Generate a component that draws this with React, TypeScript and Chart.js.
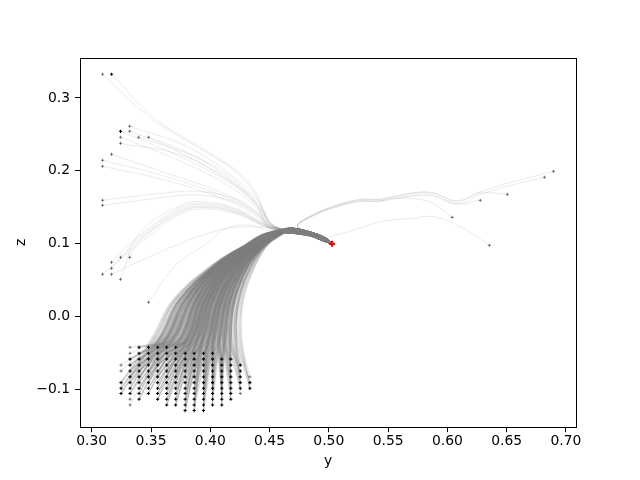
import React, { useEffect, useRef } from 'react';
import { Chart, registerables } from 'chart.js';

Chart.register(...registerables);

// ---- axis ranges and ticks ----
const X_MIN = 0.2901;
const X_MAX = 0.7085;
const Y_MIN = -0.1525;
const Y_MAX = 0.3555;
const xTickValues = [0.3, 0.35, 0.4, 0.45, 0.5, 0.55, 0.6, 0.65, 0.7];
const xTickLabels = ['0.30', '0.35', '0.40', '0.45', '0.50', '0.55', '0.60', '0.65', '0.70'];
const yTickValues = [-0.1, 0, 0.1, 0.2, 0.3];
const yTickLabels = ['\u22120.1', '0.0', '0.1', '0.2', '0.3'];

// ---- start grid (y, z) : '#' dense marker (several runs), '+' light marker (one run), '.' none ----
const gridColX = [0.3247, 0.3323, 0.3399, 0.3478, 0.3556, 0.3632, 0.3708, 0.3788, 0.3864, 0.3943, 0.4019, 0.4097, 0.4173, 0.4253, 0.4334];
const gridRowY = [-0.0427, -0.0509, -0.059, -0.0672, -0.0753, -0.0833, -0.0913, -0.099, -0.1062, -0.1141, -0.122, -0.1296];
const gridRows = [
  '.+#####........',
  '.+#########....',
  '.############..',
  '+#############.',
  '+#############.',
  '.#############+',
  '###############',
  '###############',
  '#############+.',
  '.+#.#########..',
  '.+...#######...',
  '.......###.....',
];
const runsPerMarker: Record<string, number> = { '#': 4, '+': 1 };

// ---- trajectory lanes of the bundle (x read at fixed z levels, per grid column) ----
const laneLevelY = [-0.03, 0.022, 0.07, 0.098, 0.114];
const laneX = [
  [0.354, 0.371, 0.403, 0.43, 0.447],
  [0.36, 0.376, 0.405, 0.431, 0.449],
  [0.366, 0.381, 0.4065, 0.432, 0.451],
  [0.372, 0.386, 0.408, 0.433, 0.453],
  [0.378, 0.3895, 0.4105, 0.4343, 0.4538],
  [0.3825, 0.393, 0.413, 0.4356, 0.4545],
  [0.387, 0.397, 0.4155, 0.4369, 0.4553],
  [0.3915, 0.4, 0.418, 0.4382, 0.456],
  [0.396, 0.404, 0.4205, 0.4395, 0.4568],
  [0.4005, 0.4075, 0.423, 0.4408, 0.4575],
  [0.405, 0.411, 0.4255, 0.4421, 0.4583],
  [0.4095, 0.4145, 0.428, 0.4434, 0.459],
  [0.414, 0.418, 0.4305, 0.4447, 0.4598],
  [0.4185, 0.4215, 0.433, 0.446, 0.4605],
  [0.423, 0.425, 0.436, 0.4473, 0.4613],
];
const laneSpread = [0.008, 0.0065, 0.005, 0.0032, 0.0018];
const runOffset = [-0.45, 0.15, -0.25, 0.4, -0.1, 0.3, -0.35, 0.05, 0.45, -0.2, 0.25, -0.05];

// ---- common band from the apex to the end point ----
const bandX = [0.467, 0.4839, 0.4965, 0.503];
const bandY = [0.1178, 0.1133, 0.1055, 0.0995];
const bandHalf = [0.0037, 0.003, 0.003, 0];
const endPoint = { x: 0.5027, y: 0.0995 };

// ---- scattered starts outside the grid ----
const outlierX = [0.3091, 0.3167, 0.332, 0.3243, 0.332, 0.3243, 0.3396, 0.348, 0.3243, 0.3167, 0.3091, 0.3091, 0.3091, 0.3091,
  0.3167, 0.3243, 0.332, 0.3167, 0.3091, 0.3167, 0.3243, 0.348, 0.6895, 0.6819, 0.6506, 0.6278, 0.6041, 0.6354];
const outlierY = [0.3326, 0.3326, 0.2611, 0.2542, 0.2542, 0.246, 0.246, 0.246, 0.2377, 0.2226, 0.2144, 0.2061, 0.1594, 0.1525,
  0.0742, 0.081, 0.081, 0.0659, 0.0577, 0.0577, 0.0508, 0.0192, 0.1992, 0.191, 0.1676, 0.1594, 0.136, 0.0975];
const outlierTone = ['g', 'b', 'g', 'b', 'g', 'g', 'g', 'g', 'g', 'g', 'g', 'g', 'g', 'g',
  'g', 'g', 'g', 'g', 'g', 'g', 'g', 'g', 'g', 'g', 'g', 'g', 'g', 'g'];
const outlierGuide = ['topA2', 'topA', 'clHigh', 'clMid', 'clHigh', 'clMid', 'clRight', 'clRight', 'clMid', 'side', 'side', 'side', 'flat', 'flat',
  'arc', 'arc', 'arc', 'arc', 'arc', 'low', 'arc', 'hump', 'rightA', 'rightA', 'rightB', 'rightC', 'rightD', 'rightLow'];
// small separation of runs that share a guide (z units)
const outlierShift = [0, 0, 0.004, 0.003, -0.004, -0.003, 0.003, -0.003, 0.006, 0.005, 0, -0.005, 0.003, -0.003,
  0.006, 0.003, -0.002, 0, -0.005, 0, 0.009, 0, 0.002, -0.002, 0.003, -0.003, 0, 0];

const guides: Record<string, number[][]> = {
  topA: [[0.3514, 0.2743], [0.3767, 0.2468], [0.4049, 0.2193], [0.4247, 0.1964], [0.4389, 0.1689], [0.4473, 0.1368], [0.4545, 0.1235]],
  topA2: [[0.348, 0.2745], [0.374, 0.247], [0.4025, 0.2195], [0.4228, 0.1965], [0.4375, 0.169], [0.4465, 0.137], [0.454, 0.1235]],
  clHigh: [[0.382, 0.228], [0.421, 0.186], [0.441, 0.155], [0.45, 0.129], [0.4565, 0.1215]],
  clMid: [[0.3767, 0.2148], [0.419, 0.178], [0.4388, 0.1506], [0.4473, 0.1278], [0.456, 0.121]],
  clRight: [[0.392, 0.213], [0.425, 0.178], [0.442, 0.148], [0.4505, 0.127], [0.457, 0.121]],
  side: [[0.3627, 0.1918], [0.419, 0.1598], [0.4416, 0.1368], [0.45, 0.123], [0.457, 0.1205]],
  flat: [[0.3627, 0.1667], [0.3909, 0.169], [0.419, 0.16], [0.4388, 0.1415], [0.4486, 0.1254], [0.4575, 0.1205]],
  arc: [[0.3402, 0.1048], [0.3767, 0.146], [0.3993, 0.1506], [0.4247, 0.1415], [0.4416, 0.1278], [0.452, 0.1205]],
  low: [[0.36, 0.09], [0.395, 0.112], [0.42, 0.122], [0.445, 0.1225], [0.458, 0.1195]],
  hump: [[0.371, 0.0705], [0.3993, 0.1025], [0.4134, 0.1209], [0.4331, 0.1254], [0.4473, 0.1186], [0.458, 0.118]],
  rightA: [[0.6501, 0.1804], [0.6276, 0.169], [0.6079, 0.1561], [0.5853, 0.169], [0.5571, 0.1643], [0.543, 0.1598], [0.5261, 0.1598], [0.5036, 0.1506], [0.4839, 0.1368], [0.4735, 0.124]],
  rightB: [[0.6276, 0.1665], [0.6079, 0.1561], [0.5853, 0.168], [0.5571, 0.1635], [0.543, 0.159], [0.5261, 0.159], [0.5036, 0.15], [0.4839, 0.1362], [0.4735, 0.1238]],
  rightC: [[0.6079, 0.1575], [0.5853, 0.1685], [0.5571, 0.164], [0.543, 0.1595], [0.5261, 0.1595], [0.5036, 0.1503], [0.4839, 0.1365], [0.4735, 0.1239]],
  rightD: [[0.585, 0.157], [0.5571, 0.1625], [0.54, 0.158], [0.5261, 0.1575], [0.5036, 0.1486], [0.4839, 0.1355], [0.4735, 0.1235]],
  rightLow: [[0.6135, 0.1209], [0.5881, 0.1368], [0.5712, 0.1346], [0.543, 0.13], [0.5261, 0.1209], [0.4965, 0.1055], [0.503, 0.0995]],
};

type P = { x: number; y: number };

function buildDatasets() {
  const datasets: any[] = [];
  const gridLine = {
    borderColor: 'rgba(128,128,128,0.18)',
    borderWidth: 1.2,
    pointRadius: 0,
    tension: 0.4,
    fill: false,
    order: 2,
  };
  const outlierLine = { ...gridLine, borderColor: 'rgba(128,128,128,0.16)', borderWidth: 1 };
  const blackPts: P[] = [];
  const grayPts: P[] = [];

  gridRows.forEach((row, r) => {
    for (let c = 0; c < row.length; c++) {
      const ch = row[c];
      if (ch === '.') continue;
      const start = { x: gridColX[c], y: gridRowY[r] };
      (ch === '#' ? blackPts : grayPts).push(start);
      for (let t = 0; t < runsPerMarker[ch]; t++) {
        const off = runOffset[(r + 5 * c + 3 * t) % runOffset.length];
        const pts: P[] = [start];
        laneLevelY.forEach((ly, k) => pts.push({ x: laneX[c][k] + off * laneSpread[k], y: ly }));
        bandX.forEach((bx, j) => pts.push({ x: bx, y: bandY[j] + off * 2 * bandHalf[j] }));
        datasets.push({ ...gridLine, data: pts });
      }
    }
  });

  outlierX.forEach((ox, i) => {
    const start = { x: ox, y: outlierY[i] };
    (outlierTone[i] === 'b' ? blackPts : grayPts).push(start);
    const g = guides[outlierGuide[i]];
    const n = g.length;
    const pts: P[] = [start, ...g.map((p, k) => ({ x: p[0], y: p[1] + outlierShift[i] * (1 - k / n) }))];
    const lastX = pts[pts.length - 1].x;
    bandX.forEach((bx, j) => {
      if (bx > lastX + 0.004) pts.push({ x: bx, y: bandY[j] });
    });
    datasets.push({ ...outlierLine, data: pts });
  });

  datasets.push({
    data: grayPts,
    showLine: false,
    pointStyle: 'cross',
    pointRadius: 1.6,
    pointBorderWidth: 1,
    pointBorderColor: 'rgba(0,0,0,0.45)',
    pointBackgroundColor: 'rgba(0,0,0,0.45)',
    order: 1,
  });
  datasets.push({
    data: blackPts,
    showLine: false,
    pointStyle: 'cross',
    pointRadius: 1.6,
    pointBorderWidth: 1.1,
    pointBorderColor: '#000',
    pointBackgroundColor: '#000',
    order: 0,
  });
  datasets.push({
    data: [endPoint],
    showLine: false,
    pointStyle: 'cross',
    pointRadius: 3,
    pointBorderWidth: 2.2,
    pointBorderColor: '#ff0000',
    pointBackgroundColor: '#ff0000',
    order: -1,
  });
  return datasets;
}

const framePlugin = {
  id: 'frame',
  afterDraw(chart: any) {
    const { ctx, chartArea: a } = chart;
    ctx.save();
    ctx.strokeStyle = '#000';
    ctx.lineWidth = 1;
    const l = Math.round(a.left) + 0.5;
    const t = Math.round(a.top) + 0.5;
    const r = Math.round(a.right) + 0.5;
    const b = Math.round(a.bottom) + 0.5;
    ctx.strokeRect(l, t, r - l, b - t);
    ctx.restore();
  },
};

export default function App() {
  const ref = useRef<HTMLCanvasElement | null>(null);

  useEffect(() => {
    if (!ref.current) return;
    const font = { family: 'DejaVu Sans', size: 13.9 };
    const chart = new Chart(ref.current, {
      type: 'line',
      data: { datasets: buildDatasets() },
      options: {
        animation: false,
        responsive: false,
        devicePixelRatio: 1,
        events: [],
        layout: { padding: { left: 0, right: 64, top: 57.6, bottom: 0 } },
        plugins: {
          legend: { display: false },
          tooltip: { enabled: false },
        },
        scales: {
          x: {
            type: 'linear',
            min: X_MIN,
            max: X_MAX,
            afterBuildTicks: (s: any) => {
              s.ticks = xTickValues.map((v) => ({ value: v }));
            },
            afterFit: (s: any) => {
              s.height = 52.8;
            },
            grid: { display: true, drawOnChartArea: false, drawTicks: true, tickLength: 5, tickWidth: 1, tickColor: '#000', color: '#000' },
            border: { display: false },
            ticks: {
              color: '#000',
              font,
              padding: 1,
              maxRotation: 0,
              autoSkip: false,
              callback: (_v: any, i: number) => xTickLabels[i],
            },
            title: { display: true, text: 'y', color: '#000', font, padding: { top: 0, bottom: 10 } },
          },
          y: {
            type: 'linear',
            min: Y_MIN,
            max: Y_MAX,
            afterBuildTicks: (s: any) => {
              s.ticks = yTickValues.map((v) => ({ value: v }));
            },
            afterFit: (s: any) => {
              s.width = 80;
            },
            grid: { display: true, drawOnChartArea: false, drawTicks: true, tickLength: 5, tickWidth: 1, tickColor: '#000', color: '#000' },
            border: { display: false },
            ticks: {
              color: '#000',
              font,
              padding: 5,
              autoSkip: false,
              callback: (_v: any, i: number) => yTickLabels[i],
            },
            title: { display: true, text: 'z', color: '#000', font, padding: { top: 13, bottom: 0 } },
          },
        },
      } as any,
      plugins: [framePlugin],
    });
    return () => chart.destroy();
  }, []);

  return (
    <div style={{ position: 'absolute', left: 0, top: 0, width: 640, height: 480, background: '#fff' }}>
      <canvas ref={ref} width={640} height={480} style={{ width: 640, height: 480, display: 'block' }} />
    </div>
  );
}
